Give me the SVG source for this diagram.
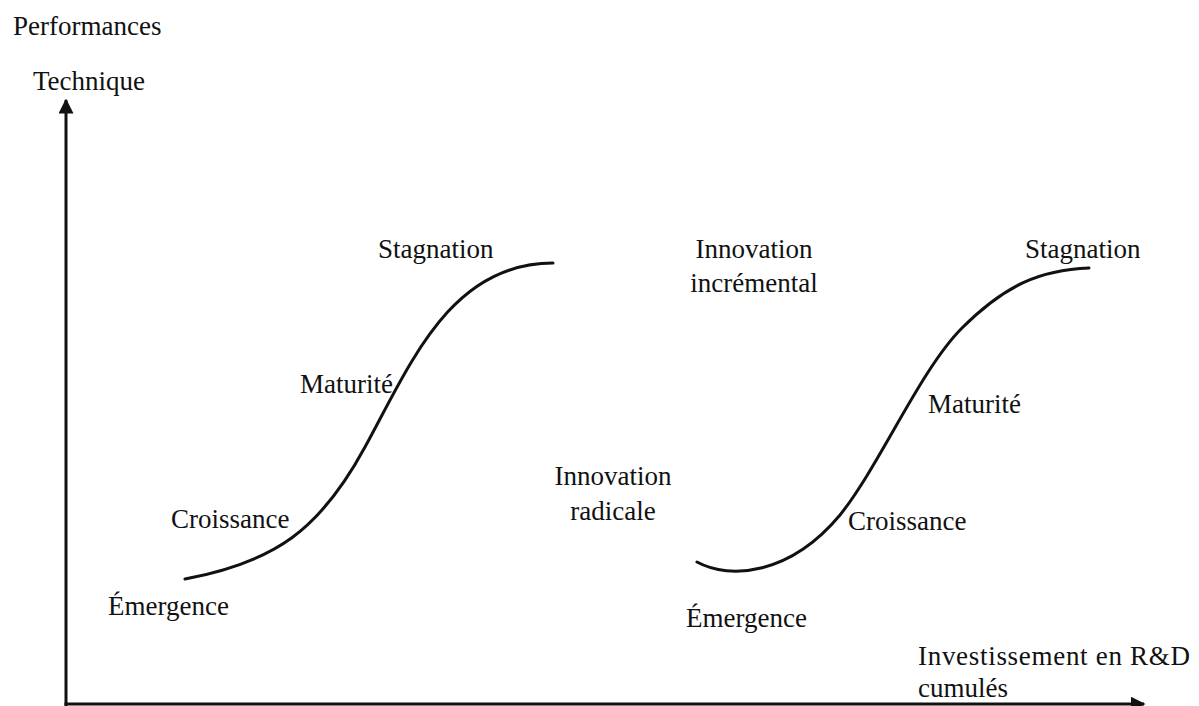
<svg xmlns="http://www.w3.org/2000/svg" width="1199" height="706" viewBox="0 0 1199 706">
<style>
text{font-family:"Liberation Serif","Times New Roman",serif;font-size:27px;fill:#111}
.mid{text-anchor:middle}
.curve{fill:none;stroke:#111;stroke-width:3;stroke-linecap:round}
.axis{fill:none;stroke:#111;stroke-width:3}
</style>
<defs>
<marker id="arr" viewBox="0 0 10 10" refX="9" refY="5" markerWidth="5" markerHeight="5" orient="auto" markerUnits="strokeWidth">
<path d="M0,0 L10,5 L0,10 z" fill="#111"/>
</marker>
</defs>
<rect width="1199" height="706" fill="#fff"/>
<g id="connectors">
<line class="axis" x1="66" y1="706" x2="66" y2="100" marker-end="url(#arr)"/>
<line class="axis" x1="64.5" y1="704" x2="1144" y2="704" marker-end="url(#arr)"/>
<path class="curve" d="M185,579 C275,562 320,530 365,447 C410,365 450,263 553,263"/>
<path class="curve" d="M697,562 C730,580 790,575 840,515 C880,465 920,370 962,328 C1005,285 1040,270 1089,268"/>
</g>
<g id="axis-labels">
<text x="13" y="35">Performances</text>
<text x="33" y="90">Technique</text>
<text x="918" y="665" textLength="272">Investissement en R&amp;D</text>
<text x="918" y="697">cumulés</text>
</g>
<g id="curve1">
<text x="378" y="258">Stagnation</text>
<text x="300" y="393">Maturité</text>
<text x="171" y="528">Croissance</text>
<text x="108" y="615">Émergence</text>
</g>
<g id="curve2">
<text x="1025" y="258">Stagnation</text>
<text x="928" y="413">Maturité</text>
<text x="848" y="530">Croissance</text>
<text x="686" y="627">Émergence</text>
</g>
<g id="innovation-incremental">
<text class="mid" x="754" y="258">Innovation</text>
<text class="mid" x="754" y="292">incrémental</text>
</g>
<g id="innovation-radicale">
<text class="mid" x="613" y="485">Innovation</text>
<text class="mid" x="613" y="520">radicale</text>
</g>
</svg>
